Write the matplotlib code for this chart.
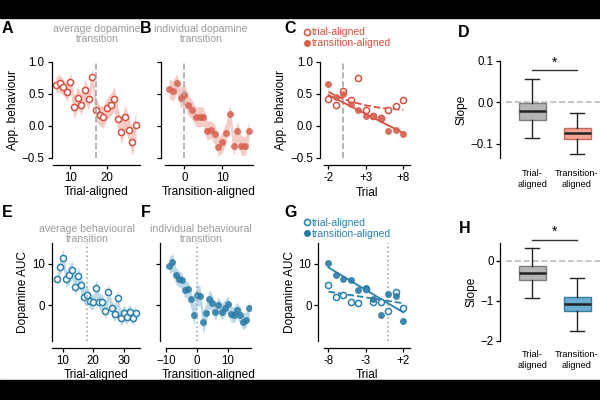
import matplotlib
matplotlib.use('Agg')
import matplotlib.pyplot as plt
import numpy as np
from matplotlib.lines import Line2D

plt.rcParams['font.family'] = ['Liberation Sans', 'DejaVu Sans']
plt.rcParams['font.size'] = 8.3
plt.rcParams['axes.linewidth'] = 0.9
plt.rcParams['xtick.major.width'] = 0.9
plt.rcParams['ytick.major.width'] = 0.9
plt.rcParams['xtick.major.size'] = 3
plt.rcParams['ytick.major.size'] = 3

red = '#d5503f'
red_fill = '#d6604d'
pink = '#f5cbc6'
blue = '#2a80ad'
blue_fill = '#2b7aa5'
lightblue = '#bcd9e8'
grey = '#9b9b9b'

TICK = 8.3
LAB = 8.6
TIT = 7.6
LEG = 7.5
BOX = 6.7

# ---- data: approach behaviour (top row) ----
A_x = list(range(6, 29))
A_y = [0.64, 0.66, 0.61, 0.52, 0.68, 0.29, 0.44, 0.33, 0.56, 0.41, 0.76, 0.25,
       0.16, 0.13, 0.27, 0.32, 0.42, 0.11, -0.10, 0.14, -0.06, -0.25, 0.01]
A_err = [0.12, 0.14, 0.12, 0.14, 0.15, 0.18, 0.17, 0.16, 0.17, 0.17, 0.14, 0.17,
         0.16, 0.17, 0.17, 0.17, 0.19, 0.17, 0.19, 0.20, 0.19, 0.22, 0.20]

B_x = list(range(-4, 18))
B_y = [0.58, 0.54, 0.66, 0.44, 0.48, 0.33, 0.25, 0.14, 0.14, 0.14, -0.08,
       -0.06, -0.13, -0.33, -0.26, -0.11, 0.18, -0.31, -0.09, -0.31, -0.32, -0.08]
B_err = [0.15, 0.16, 0.15, 0.16, 0.17, 0.16, 0.15, 0.15, 0.16, 0.15, 0.15,
         0.14, 0.15, 0.15, 0.16, 0.17, 0.16, 0.16, 0.16, 0.15, 0.15, 0.15]

C_x = list(range(-2, 9))
C_trial = [0.42, 0.33, 0.54, 0.40, 0.74, 0.24, 0.15, 0.12, 0.25, 0.31, 0.40]
C_trans = [0.65, 0.45, 0.49, 0.34, 0.25, 0.16, 0.15, 0.11, -0.08, -0.06, -0.13]
C_trial_fit = [0.53, 0.47, 0.42, 0.38, 0.35, 0.32, 0.30, 0.28, 0.27, 0.26, 0.25]
C_trans_fit = [0.48, -0.11]

D_stats = [
    dict(med=-0.022, q1=-0.042, q3=-0.001, whislo=-0.086, whishi=0.056),
    dict(med=-0.074, q1=-0.089, q3=-0.062, whislo=-0.125, whishi=-0.025),
]

# ---- data: dopamine AUC (bottom row) ----
E_x = list(range(8, 35))
E_y = [6.3, 9.2, 11.3, 6.3, 7.3, 8.5, 4.5, 7.1, 4.9, 2.1, 2.4, 1.0, 0.7, 4.2,
       0.9, 0.7, -1.3, 3.2, -0.7, -2.1, 1.8, -3.1, -1.9, -2.7, -1.5, -3.0, -1.9]
E_err = [1.8, 2.0, 2.2, 2.0, 2.1, 2.2, 2.1, 2.2, 2.1, 2.0, 2.0, 1.9, 1.8, 2.0,
         1.9, 1.9, 2.0, 2.1, 2.0, 1.9, 2.0, 1.9, 1.9, 1.8, 1.8, 1.7, 1.7]

F_x = list(range(-9, 18))
F_y = [9.6, 10.4, 7.3, 6.4, 6.1, 3.8, 3.9, 1.6, -2.2, 2.6, 2.2, -4.0, -1.8, 1.6,
       0.5, -1.6, 0.2, -1.5, -0.6, 0.4, -2.0, -2.3, -1.1, -2.3, -3.9, -3.4, -0.7]
F_err = [2.0, 2.2, 2.0, 1.9, 1.9, 2.0, 2.0, 2.2, 2.8, 2.6, 2.4, 2.8, 2.4, 2.2,
         2.0, 2.0, 1.9, 2.0, 1.9, 2.0, 1.9, 1.9, 1.9, 2.0, 1.9, 1.9, 2.0]

G_x = list(range(-8, 3))
G_trial = [4.9, 2.1, 2.5, 0.9, 0.6, 4.0, 0.9, 0.7, -1.3, 3.3, -0.7]
G_trans = [10.3, 7.2, 6.3, 6.1, 3.7, 4.1, 1.5, -2.2, 2.7, 2.3, -3.8]
G_trial_fit = [3.3, 0.5]
G_trans_fit = [9.1, -1.7]

H_stats = [
    dict(med=-0.30, q1=-0.47, q3=-0.14, whislo=-0.92, whishi=0.33),
    dict(med=-1.07, q1=-1.25, q3=-0.90, whislo=-1.75, whishi=-0.42),
]

W, H = 600, 400
fig = plt.figure(figsize=(6, 4), dpi=100)


def px_axes(l, t, r, b):
    return fig.add_axes([l / W, 1 - b / H, (r - l) / W, (b - t) / H])


def style(ax, left_off=2, bottom_off=5):
    for s in ['top', 'right']:
        ax.spines[s].set_visible(False)
    ax.spines['left'].set_position(('outward', left_off))
    ax.spines['bottom'].set_position(('outward', bottom_off))
    ax.tick_params(labelsize=TICK, pad=2)


def title_px(x, y, txt):
    fig.text(x / W, 1 - y / H, txt, ha='center', va='top', color=grey,
             fontsize=TIT, linespacing=0.95)


def letter(x, y, s):
    fig.text(x / W, 1 - y / H, s, ha='left', va='top', fontsize=11.5,
             fontweight='bold')


# black bars top and bottom
fig.patches.append(plt.Rectangle((0, 1 - 18 / H), 1, 18 / H, transform=fig.transFigure,
                                 color='black', zorder=-1))
fig.patches.append(plt.Rectangle((0, 0), 1, 20 / H, transform=fig.transFigure,
                                 color='black', zorder=-1))

# ---------------- A ----------------
ax = px_axes(53, 61.7, 140, 157.7)
ax.fill_between(A_x, np.array(A_y) - A_err, np.array(A_y) + A_err, color=pink, lw=0)
ax.plot(A_x, A_y, 'o', mfc='white', mec=red, ms=4.4, mew=1.1)
ax.axvline(17, color='#a8a8a8', ls='--', lw=1.2)
ax.set_xlim(5.2, 29.1)
ax.set_ylim(-0.5, 1.0)
ax.set_xticks([10, 20])
ax.set_yticks([-0.5, 0, 0.5, 1.0])
ax.set_yticklabels(['\u22120.5', '0.0', '0.5', '1.0'])
ax.set_xlabel('Trial-aligned', fontsize=LAB, labelpad=2)
ax.set_ylabel('App. behaviour', fontsize=LAB, labelpad=2)
style(ax, left_off=1)

# ---------------- B ----------------
ax = px_axes(165, 61.7, 253, 157.7)
ax.fill_between(B_x, np.array(B_y) - B_err, np.array(B_y) + B_err, color=pink, lw=0)
ax.plot(B_x, B_y, 'o', color=red_fill, alpha=0.85, ms=5, mew=0)
ax.axvline(0, color='#a8a8a8', ls='--', lw=1.2)
ax.set_xlim(-5.1, 18.1)
ax.set_ylim(-0.5, 1.0)
ax.set_xticks([0, 10])
ax.set_yticks([-0.5, 0, 0.5, 1.0])
ax.set_yticklabels([])
ax.set_xlabel('Transition-aligned', fontsize=LAB, labelpad=2)
style(ax, left_off=3)

# ---------------- C ----------------
ax = px_axes(324, 61.7, 410, 158)
ax.axvline(0, color='#a8a8a8', ls='--', lw=1.2)
ax.plot(C_x, C_trial_fit, '--', color=red, lw=1.3)
ax.plot([C_x[0], C_x[-1]], C_trans_fit, '-', color=red, lw=1.3)
ax.plot(C_x, C_trial, 'o', mfc='white', mec=red, ms=4.4, mew=1.1)
ax.plot(C_x, C_trans, 'o', color=red_fill, alpha=0.9, ms=5, mew=0)
ax.set_xlim(-2.6, 8.9)
ax.set_ylim(-0.5, 1.0)
ax.set_xticks([-2, 3, 8])
ax.set_xticklabels(['-2', '+3', '+8'])
ax.set_yticks([-0.5, 0, 0.5, 1.0])
ax.set_yticklabels(['\u22120.5', '0.0', '0.5', '1.0'])
ax.set_xlabel('Trial', fontsize=LAB, labelpad=2)
ax.set_ylabel('App. behaviour', fontsize=LAB, labelpad=2)
style(ax, left_off=3)
hs = [Line2D([], [], ls='', marker='o', mfc='white', mec=red, ms=4.4, mew=1.1),
      Line2D([], [], ls='', marker='o', color=red_fill, ms=5, mew=0)]
ax.legend(hs, ['trial-aligned', 'transition-aligned'], loc='lower left',
          bbox_to_anchor=(-0.23, 1.14), frameon=False, fontsize=LEG,
          handlelength=0.5, handletextpad=0.25, borderpad=0, borderaxespad=0,
          labelspacing=0.1, labelcolor=red)

# ---------------- D ----------------
ax = px_axes(506, 60.7, 600, 158)
ax.axhline(0, color='#bdbdbd', ls='--', lw=1.2, zorder=0)
bp = ax.bxp(D_stats, positions=[0, 1], widths=0.6, showfliers=False, patch_artist=True,
            medianprops=dict(color='#222222', lw=1.8),
            whiskerprops=dict(color='#222222', lw=1), capprops=dict(color='#222222', lw=1))
bp['boxes'][0].set(facecolor='#b5b5b5', edgecolor='#7d7d7d')
bp['boxes'][1].set(facecolor='#f2a594', edgecolor='#c46a5a')
ax.plot([0, 1], [0.078, 0.078], color='#333333', lw=1, clip_on=False)
ax.text(0.5, 0.079, '*', ha='center', va='bottom', fontsize=10)
ax.set_xlim(-0.58, 1.51)
ax.set_ylim(-0.134, 0.1)
ax.set_yticks([-0.1, 0, 0.1])
ax.set_yticklabels(['\u22120.1', '0.0', '0.1'])
ax.set_xticks([0, 1])
ax.set_xticklabels(['Trial-\naligned', 'Transition-\naligned'], linespacing=1.0)
for lab, c in zip(ax.get_xticklabels(), [grey, '#ec8a78']):
    lab.set_color(c)
ax.set_ylabel('Slope', fontsize=LAB, labelpad=2)
style(ax, left_off=4)
ax.spines['bottom'].set_visible(False)
ax.tick_params(axis='x', length=0, pad=3, labelsize=BOX)

# ---------------- E ----------------
ax = px_axes(52, 243, 140, 340.7)
ax.fill_between(E_x, np.array(E_y) - E_err, np.array(E_y) + E_err, color=lightblue, lw=0)
ax.plot(E_x, E_y, 'o', mfc='white', mec=blue, ms=4.4, mew=1.1)
ax.axvline(18, color='#a8a8a8', ls=':', lw=1.2)
ax.set_xlim(6.35, 35.4)
ax.set_ylim(-8.5, 15)
ax.set_xticks([10, 20, 30])
ax.set_yticks([0, 10])
ax.set_xlabel('Trial-aligned', fontsize=LAB, labelpad=2)
ax.set_ylabel('Dopamine AUC', fontsize=LAB, labelpad=2)
style(ax, left_off=0)

# ---------------- F ----------------
ax = px_axes(166, 243.3, 251, 340.7)
ax.fill_between(F_x, np.array(F_y) - F_err, np.array(F_y) + F_err, color=lightblue, lw=0)
ax.plot(F_x, F_y, 'o', color=blue_fill, alpha=0.85, ms=5, mew=0)
ax.axvline(0, color='#a8a8a8', ls=':', lw=1.2)
ax.set_xlim(-10.1, 17.6)
ax.set_ylim(-8.5, 15)
ax.set_xticks([-10, 0, 10])
ax.set_xticklabels(['\u221210', '0', '10'])
ax.set_yticks([0, 10])
ax.set_yticklabels([])
ax.set_xlabel('Transition-aligned', fontsize=LAB, labelpad=2)
style(ax, left_off=4)

# ---------------- G ----------------
ax = px_axes(324, 243, 410, 340.7)
ax.axvline(0, color='#a8a8a8', ls=':', lw=1.2)
ax.plot([G_x[0], G_x[-1]], G_trial_fit, '--', color=blue, lw=1.3)
ax.plot([G_x[0], G_x[-1]], G_trans_fit, '-', color=blue, lw=1.3)
ax.plot(G_x, G_trial, 'o', mfc='white', mec=blue, ms=4.4, mew=1.1)
ax.plot(G_x, G_trans, 'o', color=blue_fill, alpha=0.9, ms=5, mew=0)
ax.set_xlim(-8.6, 2.9)
ax.set_ylim(-8.5, 15)
ax.set_xticks([-8, -3, 2])
ax.set_xticklabels(['-8', '-3', '+2'])
ax.set_yticks([0, 10])
ax.set_xlabel('Trial', fontsize=LAB, labelpad=2)
ax.set_ylabel('Dopamine AUC', fontsize=LAB, labelpad=2)
style(ax, left_off=4)
hs = [Line2D([], [], ls='', marker='o', mfc='white', mec=blue, ms=4.4, mew=1.1),
      Line2D([], [], ls='', marker='o', color=blue_fill, ms=5, mew=0)]
ax.legend(hs, ['trial-aligned', 'transition-aligned'], loc='lower left',
          bbox_to_anchor=(-0.23, 1.04), frameon=False, fontsize=LEG,
          handlelength=0.5, handletextpad=0.25, borderpad=0, borderaxespad=0,
          labelspacing=0.1, labelcolor=blue)

# ---------------- H ----------------
ax = px_axes(506, 242.7, 600, 340.7)
ax.axhline(0, color='#bdbdbd', ls='--', lw=1.2, zorder=0)
bp = ax.bxp(H_stats, positions=[0, 1], widths=0.6, showfliers=False, patch_artist=True,
            medianprops=dict(color='#222222', lw=1.8),
            whiskerprops=dict(color='#222222', lw=1), capprops=dict(color='#222222', lw=1))
bp['boxes'][0].set(facecolor='#b5b5b5', edgecolor='#7d7d7d')
bp['boxes'][1].set(facecolor='#6aaed3', edgecolor='#3c7d9e')
ax.plot([0, 1], [0.53, 0.53], color='#333333', lw=1, clip_on=False)
ax.text(0.5, 0.54, '*', ha='center', va='bottom', fontsize=10)
ax.set_xlim(-0.58, 1.51)
ax.set_ylim(-2, 0.45)
ax.set_yticks([-2, -1, 0])
ax.set_yticklabels(['\u22122', '\u22121', '0'])
ax.set_xticks([0, 1])
ax.set_xticklabels(['Trial-\naligned', 'Transition-\naligned'], linespacing=1.0)
for lab, c in zip(ax.get_xticklabels(), [grey, '#6fb2d6']):
    lab.set_color(c)
ax.set_ylabel('Slope', fontsize=LAB, labelpad=2)
style(ax, left_off=4)
ax.spines['bottom'].set_visible(False)
ax.tick_params(axis='x', length=0, pad=2, labelsize=BOX)

# titles and panel letters
title_px(97, 24, 'average dopamine\ntransition')
title_px(201, 24, 'individual dopamine\ntransition')
title_px(87, 224, 'average behavioural\ntransition')
title_px(201, 224, 'individual behavioural\ntransition')

letter(2, 21, 'A')
letter(140, 21, 'B')
letter(284, 21, 'C')
letter(458, 25, 'D')
letter(2, 205, 'E')
letter(141, 205, 'F')
letter(284, 205, 'G')
letter(459, 221, 'H')

fig.savefig('out.png', dpi=100)
